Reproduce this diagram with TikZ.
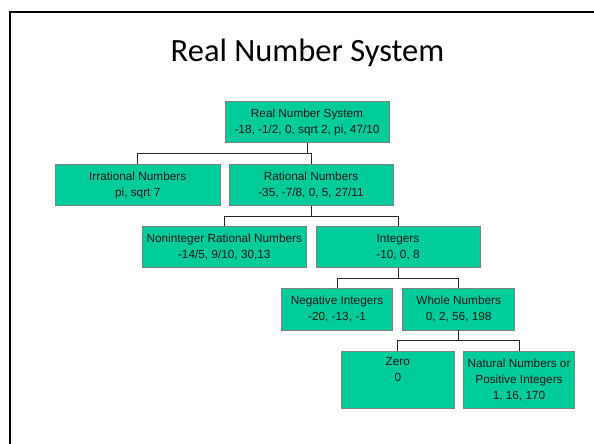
\documentclass[tikz,border=0pt]{standalone}
\usepackage{fontspec}
\setmainfont{Liberation Sans}
\newfontfamily\titlefont{Carlito}
\definecolor{boxgreen}{RGB}{0,204,153}
\definecolor{boxedge}{RGB}{128,128,128}
\begin{document}
\begin{tikzpicture}[x=1pt,y=-1pt,
  box/.style={draw=boxedge, fill=boxgreen, line width=0.7pt, align=center,
    inner sep=0pt, font=\fontsize{11.8}{16}\selectfont, text=black!90},
  link/.style={draw=black!85, line width=0.8pt},
  frameline/.style={draw=black, line width=2pt}]
\useasboundingbox (0,0) rectangle (594,444);
\clip (0,0) rectangle (594,444);
\fill[white] (0,0) rectangle (594,444);
\draw[frameline] (10,12) rectangle (640,480);
\node[anchor=base, font=\titlefont\fontsize{32.5}{38}\selectfont] (title) at (307.5,61.7) {Real Number System};
% boxes
\node[box, minimum width=164pt, minimum height=41pt] (root) at (307,122.2) {Real Number System\\-18, -1/2, 0, sqrt 2, pi, 47/10};
\node[box, minimum width=164.5pt, minimum height=41.4pt] (irr) at (137.7,185) {Irrational Numbers\\pi, sqrt 7};
\node[box, minimum width=164pt, minimum height=41.4pt] (rat) at (311,185) {Rational Numbers\\-35, -7/8, 0, 5, 27/11};
\node[box, minimum width=163.3pt, minimum height=41.7pt] (nonint) at (224.3,246.9) {Noninteger Rational Numbers\\-14/5, 9/10, 30,13};
\node[box, minimum width=164pt, minimum height=41.7pt] (integ) at (398,246.9) {Integers\\-10, 0, 8};
\node[box, minimum width=111.4pt, minimum height=41.7pt] (neg) at (337,309.2) {Negative Integers\\-20, -13, -1};
\node[box, minimum width=112pt, minimum height=41.7pt] (whole) at (458.7,309.2) {Whole Numbers\\0, 2, 56, 198};
\node[box, minimum width=112.3pt, minimum height=57.7pt] (zero) at (397.8,379.9) {Zero\\0\\\strut};
\node[box, minimum width=111.4pt, minimum height=57.7pt] (nat) at (519,379.9) {Natural Numbers or\\Positive Integers\\1, 16, 170};
% bus levels
\coordinate (b1) at (0,153.3);
\coordinate (b2) at (0,216);
\coordinate (b3) at (0,278.3);
\coordinate (b4) at (0,340);
% connectors
\draw[link] (root.south) -- (root.south |- b1);
\draw[link] (irr.north) -- (irr.north |- b1) -- (rat.north |- b1) -- (rat.north);
\draw[link] (rat.south) -- (rat.south |- b2);
\draw[link] (nonint.north) -- (nonint.north |- b2) -- (integ.north |- b2) -- (integ.north);
\draw[link] (integ.south) -- (integ.south |- b3);
\draw[link] (neg.north) -- (neg.north |- b3) -- (whole.north |- b3) -- (whole.north);
\draw[link] (whole.south) -- (whole.south |- b4);
\draw[link] (zero.north) -- (zero.north |- b4) -- (nat.north |- b4) -- (nat.north);
\end{tikzpicture}
\end{document}
